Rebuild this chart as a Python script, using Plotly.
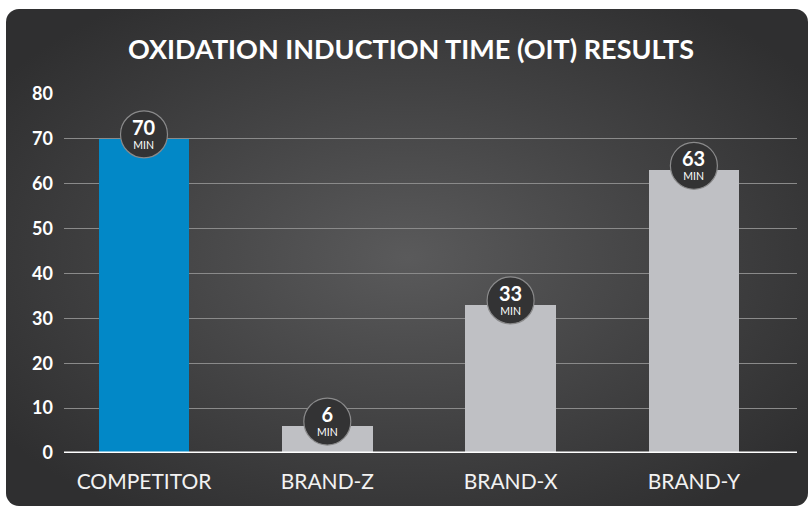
import base64
import plotly.graph_objects as go

categories = ["COMPETITOR", "BRAND-Z", "BRAND-X", "BRAND-Y"]
values = [70, 6, 33, 63]
value_labels = ["70", "6", "33", "63"]
unit_label = "MIN"
bar_colors = ["#0288C7", "#BFC0C4", "#BFC0C4", "#BFC0C4"]
y_ticks = [0, 10, 20, 30, 40, 50, 60, 70, 80]
title_text = "OXIDATION INDUCTION TIME (OIT) RESULTS"

W, H = 809, 508
L, R, T, B = 64, 12, 94, 55
pw, ph = W - L - R, H - T - B

svg = f'''<svg xmlns="http://www.w3.org/2000/svg" width="802" height="497" viewBox="0 0 802 497">
<defs><radialGradient id="g" cx="0.5" cy="0.5" r="0.62">
<stop offset="0" stop-color="#5a5a5b"/><stop offset="0.55" stop-color="#424243"/><stop offset="1" stop-color="#2f2f30"/>
</radialGradient></defs>
<rect x="0" y="0" width="802" height="497" rx="13" ry="13" fill="url(#g)"/></svg>'''
src = "data:image/svg+xml;base64," + base64.b64encode(svg.encode()).decode()

def px_x(p):
    return (p - L) / pw

def px_y(p):
    return (H - B - p) / ph

fig = go.Figure()
fig.add_trace(go.Bar(
    x=list(range(len(categories))), y=values, marker=dict(color=bar_colors, line=dict(width=0)),
    width=0.495, hoverinfo="skip", showlegend=False))

annotations = []
shapes = [dict(type="line", xref="paper", yref="y", x0=0, x1=1, y0=0, y1=0,
               line=dict(color="white", width=3), layer="above")]
for i, (v, t) in enumerate(zip(values, value_labels)):
    shapes.append(dict(type="circle", xref="x", yref="y", xsizemode="pixel", ysizemode="pixel",
                       xanchor=i, yanchor=v, x0=-23.5, x1=23.5, y0=-19, y1=28,
                       fillcolor="#333334", line=dict(color="#8a8a8b", width=1.2), layer="above"))
    annotations.append(dict(x=i, y=v,
                            text=f"<span style='font-size:20px'><b>{t}</b></span><br>{unit_label}",
                            showarrow=False, yshift=6, align="center",
                            font=dict(family="Lato", size=10.5, color="white")))

unit = 183.3
xmin = -80 / unit
fig.update_layout(
    width=W, height=H, margin=dict(l=L, r=R, t=T, b=B),
    paper_bgcolor="white", plot_bgcolor="rgba(0,0,0,0)",
    images=[dict(source=src, xref="paper", yref="paper", x=px_x(6), y=px_y(9),
                 sizex=(808 - 6) / pw, sizey=(506 - 9) / ph, sizing="stretch",
                 xanchor="left", yanchor="top", layer="below")],
    title=dict(text=f"<b>{title_text}</b>", x=(411) / W, xanchor="center", y=1 - 50 / H, yanchor="middle",
               font=dict(family="Lato", size=27, color="white")),
    xaxis=dict(range=[xmin, xmin + pw / unit], tickvals=list(range(len(categories))), ticktext=categories,
               showgrid=False, zeroline=False, showline=False, ticks="", ticklabelstandoff=14,
               tickfont=dict(family="Lato", size=21, color="#f2f2f2")),
    yaxis=dict(range=[0, 80], tickvals=y_ticks, ticktext=[f"<b>{v}</b>" for v in y_ticks],
               showgrid=True, gridcolor="#8a8a8a", gridwidth=1, zeroline=False, showline=False,
               ticks="", ticklabelstandoff=10, tickfont=dict(family="Lato", size=18, color="white")),
    annotations=annotations,
    shapes=shapes,
    bargap=0,
)
fig.write_html("out.html", config={"displayModeBar": False, "staticPlot": True},
               post_script="document.body.style.margin='0';document.body.style.padding='0';")
